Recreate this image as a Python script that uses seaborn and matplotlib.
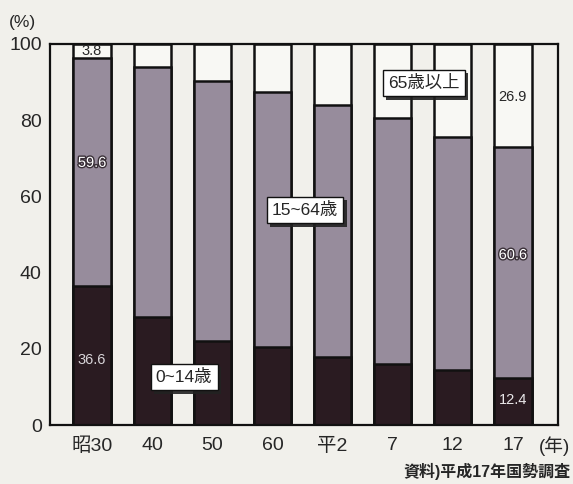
import matplotlib
matplotlib.use("Agg")
import matplotlib.pyplot as plt
import matplotlib.patheffects as pe
import numpy as np
import pandas as pd
import seaborn as sns

# 年次ラベルと年齢3区分の構成比 (%)
years = ["昭30", "40", "50", "60", "平2", "7", "12", "17"]
age_0_14 = [36.6, 28.4, 22.1, 20.4, 17.9, 16.0, 14.4, 12.4]
age_15_64 = [59.6, 65.6, 68.2, 66.9, 66.1, 64.5, 61.3, 60.6]
age_65_over = [3.8, 6.0, 9.7, 12.7, 16.0, 19.5, 24.3, 26.9]

BG = "#f1f0eb"
C_YOUNG = "#2a1b21"
C_MID = "#978c9c"
C_OLD = "#f8f8f4"

sns.set_style("white")
plt.rcParams["font.family"] = ["Liberation Sans", "Noto Sans CJK JP", "DejaVu Sans"]

df = pd.DataFrame({
    "year": years,
    "young": age_0_14,
    "mid": np.array(age_0_14) + np.array(age_15_64),
    "total": np.array(age_0_14) + np.array(age_15_64) + np.array(age_65_over),
})

fig = plt.figure(figsize=(5.73, 4.84), dpi=100, facecolor=BG)
ax = fig.add_axes([50 / 573, 1 - 425 / 484, 508 / 573, 381 / 484])
ax.set_facecolor(BG)

# 積み上げ: 高い順に重ねて描く
for col, color in [("total", C_OLD), ("mid", C_MID), ("young", C_YOUNG)]:
    sns.barplot(data=df, x="year", y=col, color=color, width=0.62,
                edgecolor="#111111", linewidth=1.8, saturation=1, ax=ax)

ax.set_xlim(-0.7, 7.75)
ax.set_ylim(0, 100)
ax.set_yticks(range(0, 101, 20))
ax.set_yticks(range(10, 100, 20), minor=True)
ax.tick_params(axis="y", which="both", direction="in", length=7.5, width=1.4,
               labelsize=14, pad=6)
ax.tick_params(axis="x", length=0, labelsize=14, pad=9)
ax.set_xlabel("")
ax.set_ylabel("")
for s in ax.spines.values():
    s.set_linewidth(1.6)
    s.set_color("#111111")

# 数値ラベル
halo = [pe.withStroke(linewidth=2, foreground="#3a3038")]
ax.text(0, 100 - age_65_over[0] / 2, "3.8", ha="center", va="center", fontsize=10.5)
ax.text(0, 68.8, "59.6", ha="center", va="center", fontsize=10.5, color="white",
        path_effects=halo)
ax.text(0, 17.1, "36.6", ha="center", va="center", fontsize=10.5, color="#d8d4d8")
ax.text(7, 86.2, "26.9", ha="center", va="center", fontsize=10.5)
ax.text(7, 44.6, "60.6", ha="center", va="center", fontsize=10.5, color="white",
        path_effects=halo)
ax.text(7, 6.6, "12.4", ha="center", va="center", fontsize=10.5, color="#e8e6e8")

# 区分名ボックス
box = dict(boxstyle="square,pad=0.3", facecolor="white", edgecolor="#111111",
           linewidth=1.0,
           path_effects=[pe.withSimplePatchShadow(offset=(2.5, -2.5), shadow_rgbFace="#222222", alpha=0.9)])
for x, y, label in [(1.53, 12.6, "0~14歳"), (3.54, 56.4, "15~64歳"), (5.52, 89.8, "65歳以上")]:
    ax.text(x, y, label, ha="center", va="center", fontsize=12.5, bbox=box, zorder=5)

fig.text(22 / 573, 1 - 22 / 484, "(%)", ha="center", va="center", fontsize=12.5)
fig.text(555 / 573, 1 - 446 / 484, "(年)", ha="center", va="center", fontsize=13.5)
fig.text(571 / 573, 1 - 471 / 484, "資料)平成17年国勢調査", ha="right", va="center",
         fontsize=11.5, fontweight="bold")

fig.savefig("out.png", dpi=100, facecolor=BG)
